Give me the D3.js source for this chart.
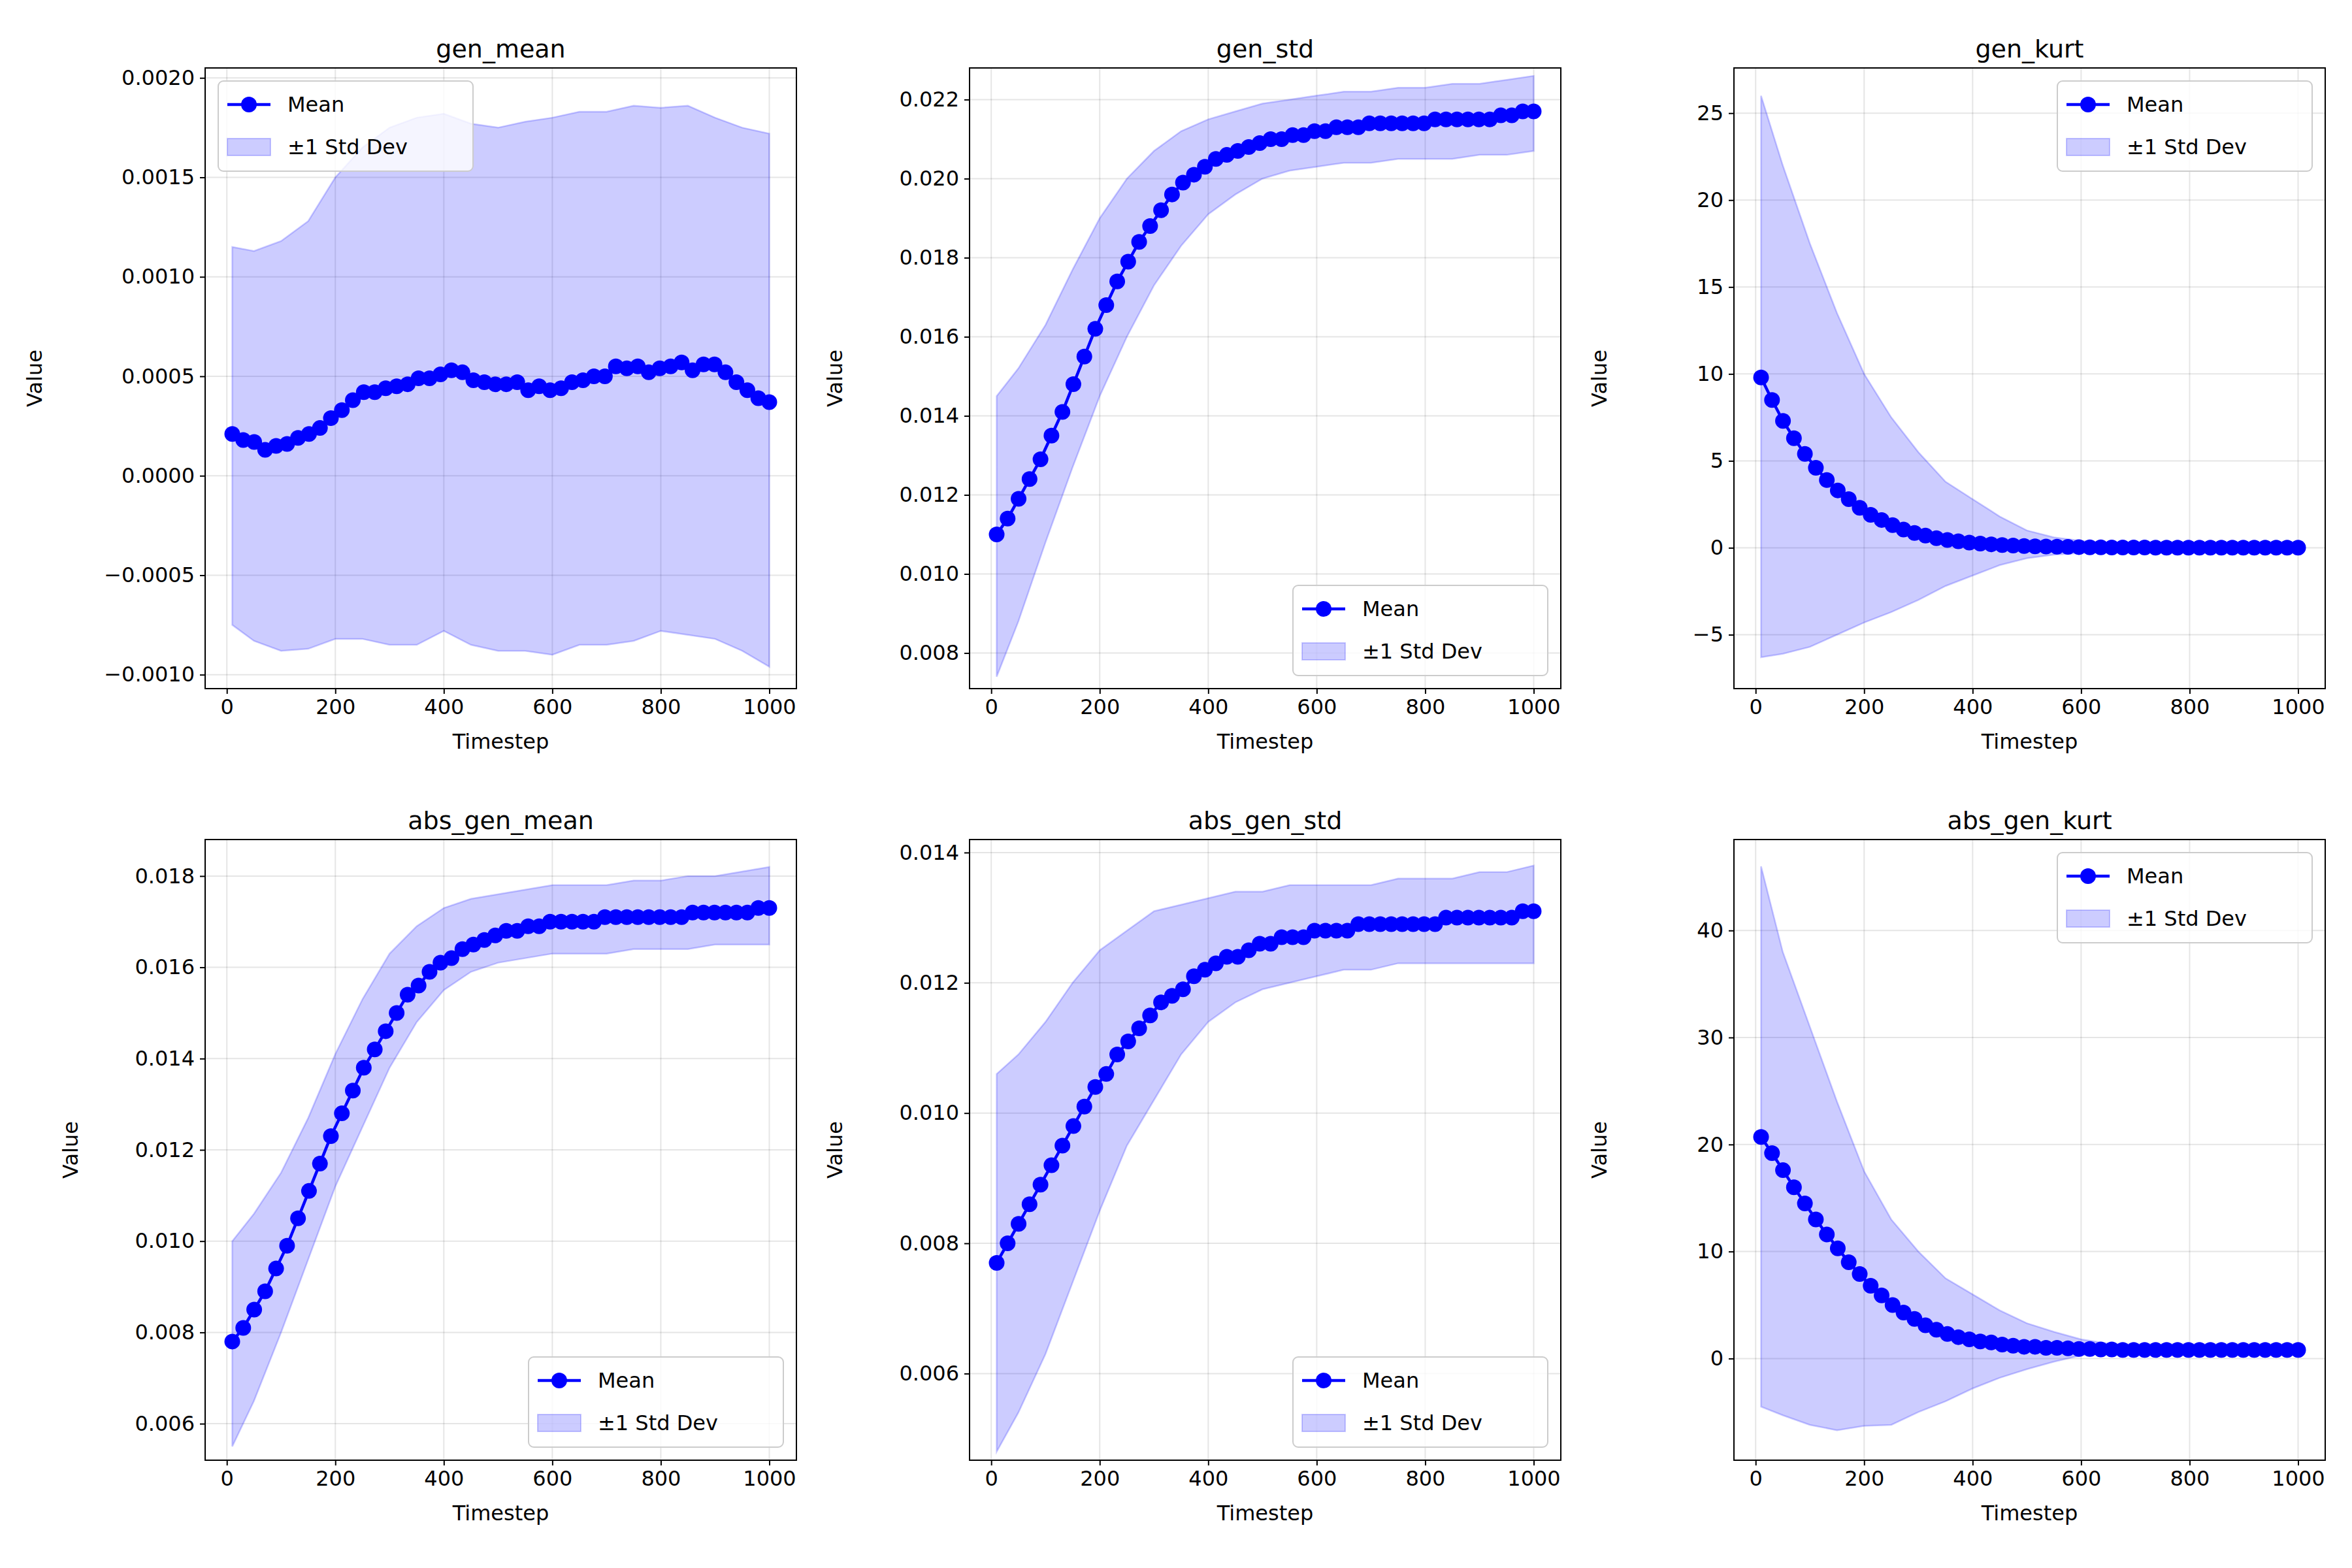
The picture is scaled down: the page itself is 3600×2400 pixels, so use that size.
<!DOCTYPE html>
<html><head><meta charset="utf-8">
<script src="https://cdn.jsdelivr.net/npm/d3@7"></script>
<style>body{margin:0;background:#fff}text{font-family:"DejaVu Sans",sans-serif}</style>
</head><body><div id="chart"></div>
<script>
// band x positions and mean x positions
const bandSteps = [10,50,100,150,200,250,300,350,400,450,500,550,600,650,700,750,800,850,900,950,1000];
const meanSteps = d3.range(50).map(i => 10 + i * 990 / 49);

const genMean = [0.00021,0.00018,0.00017,0.00013,0.00015,0.00016,0.00019,0.00021,0.00024,0.00029,0.00033,0.00038,0.00042,0.00042,0.00044,0.00045,0.00046,0.00049,0.00049,0.00051,0.00053,0.00052,0.00048,0.00047,0.00046,0.00046,0.00047,0.00043,0.00045,0.00043,0.00044,0.00047,0.00048,0.00050,0.00050,0.00055,0.00054,0.00055,0.00052,0.00054,0.00055,0.00057,0.00053,0.00056,0.00056,0.00052,0.00047,0.00043,0.00039,0.00037];
const genMeanUp = [0.00115,0.00113,0.00118,0.00128,0.00150,0.00165,0.00175,0.00180,0.00182,0.00177,0.00175,0.00178,0.00180,0.00183,0.00183,0.00186,0.00185,0.00186,0.00180,0.00175,0.00172];
const genMeanLo = [-0.00075,-0.00083,-0.00088,-0.00087,-0.00082,-0.00082,-0.00085,-0.00085,-0.00078,-0.00085,-0.00088,-0.00088,-0.00090,-0.00085,-0.00085,-0.00083,-0.00078,-0.00080,-0.00082,-0.00088,-0.00096];

const genStd = [.0110,.0114,.0119,.0124,.0129,.0135,.0141,.0148,.0155,.0162,.0168,.0174,.0179,.0184,.0188,.0192,.0196,.0199,.0201,.0203,.0205,.0206,.0207,.0208,.0209,.0210,.0210,.0211,.0211,.0212,.0212,.0213,.0213,.0213,.0214,.0214,.0214,.0214,.0214,.0214,.0215,.0215,.0215,.0215,.0215,.0215,.0216,.0216,.0217,.0217];
const genStdUp = [.0145,.0152,.0163,.0177,.0190,.0200,.0207,.0212,.0215,.0217,.0219,.0220,.0221,.0222,.0222,.0223,.0223,.0224,.0224,.0225,.0226];
const genStdLo = [.0074,.0088,.0108,.0127,.0145,.0160,.0173,.0183,.0191,.0196,.0200,.0202,.0203,.0204,.0204,.0205,.0205,.0205,.0206,.0206,.0207];

const genKurt = [9.8,8.5,7.3,6.3,5.4,4.6,3.9,3.3,2.8,2.3,1.9,1.6,1.3,1.05,0.85,0.7,0.55,0.45,0.37,0.3,0.24,0.2,0.16,0.13,0.1,0.08,0.07,0.06,0.05,0.04,0.03,0.03,0.02,0.02,0.02,0.02,0.01,0.01,0.01,0.01,0.01,0.01,0.01,0.01,0.01,0.01,0.01,0.01,0.01,0.01];
const genKurtUp = [26,22,17.5,13.5,10,7.5,5.5,3.8,2.8,1.8,1.0,0.6,0.4,0.3,0.2,0.2,0.1,0.1,0.1,0.1,0.1];
const genKurtLo = [-6.3,-6.1,-5.7,-5.0,-4.3,-3.7,-3.0,-2.2,-1.6,-1.0,-0.6,-0.4,-0.3,-0.2,-0.15,-0.1,-0.1,-0.1,-0.1,-0.1,-0.1];

const absMean = [.0078,.0081,.0085,.0089,.0094,.0099,.0105,.0111,.0117,.0123,.0128,.0133,.0138,.0142,.0146,.0150,.0154,.0156,.0159,.0161,.0162,.0164,.0165,.0166,.0167,.0168,.0168,.0169,.0169,.0170,.0170,.0170,.0170,.0170,.0171,.0171,.0171,.0171,.0171,.0171,.0171,.0171,.0172,.0172,.0172,.0172,.0172,.0172,.0173,.0173];
const absMeanUp = [.0100,.0106,.0115,.0127,.0141,.0153,.0163,.0169,.0173,.0175,.0176,.0177,.0178,.0178,.0178,.0179,.0179,.0180,.0180,.0181,.0182];
const absMeanLo = [.0055,.0065,.0080,.0096,.0112,.0125,.0138,.0148,.0155,.0159,.0161,.0162,.0163,.0163,.0163,.0164,.0164,.0164,.0165,.0165,.0165];

const absStd = [.0077,.0080,.0083,.0086,.0089,.0092,.0095,.0098,.0101,.0104,.0106,.0109,.0111,.0113,.0115,.0117,.0118,.0119,.0121,.0122,.0123,.0124,.0124,.0125,.0126,.0126,.0127,.0127,.0127,.0128,.0128,.0128,.0128,.0129,.0129,.0129,.0129,.0129,.0129,.0129,.0129,.0130,.0130,.0130,.0130,.0130,.0130,.0130,.0131,.0131];
const absStdUp = [.0106,.0109,.0114,.0120,.0125,.0128,.0131,.0132,.0133,.0134,.0134,.0135,.0135,.0135,.0135,.0136,.0136,.0136,.0137,.0137,.0138];
const absStdLo = [.0048,.0054,.0063,.0074,.0085,.0095,.0102,.0109,.0114,.0117,.0119,.0120,.0121,.0122,.0122,.0123,.0123,.0123,.0123,.0123,.0123];

const absKurt = [20.7,19.2,17.6,16.0,14.5,13.0,11.6,10.3,9.0,7.9,6.8,5.9,5.0,4.3,3.7,3.1,2.7,2.3,2.0,1.8,1.6,1.5,1.3,1.2,1.1,1.1,1.0,1.0,0.95,0.9,0.9,0.85,0.85,0.8,0.8,0.8,0.8,0.8,0.8,0.8,0.8,0.8,0.8,0.8,0.8,0.8,0.8,0.8,0.8,0.8];
const absKurtUp = [46,38,31,24,17.5,13,10,7.5,6,4.5,3.3,2.5,1.8,1.4,1.2,1.1,1.0,1.0,1.0,1.0,1.0];
const absKurtLo = [-4.5,-5.3,-6.2,-6.7,-6.3,-6.2,-5.0,-4.0,-2.8,-1.8,-1.0,-0.3,0.3,0.5,0.6,0.6,0.6,0.6,0.6,0.6,0.6];

const panels = [
  {title:'gen_mean', mean:genMean, up:genMeanUp, lo:genMeanLo, dom:[-0.00107,0.00205], ticks:d3.range(-0.001,0.00201,0.0005), fmt:'.4f', leg:'tl'},
  {title:'gen_std', mean:genStd, up:genStdUp, lo:genStdLo, dom:[0.0071,0.0228], ticks:d3.range(0.008,0.0221,0.002), fmt:'.3f', leg:'br'},
  {title:'gen_kurt', mean:genKurt, up:genKurtUp, lo:genKurtLo, dom:[-8.1,27.6], ticks:[-5,0,5,10,15,20,25], fmt:'d', leg:'tr'},
  {title:'abs_gen_mean', mean:absMean, up:absMeanUp, lo:absMeanLo, dom:[0.0052,0.0188], ticks:d3.range(0.006,0.0181,0.002), fmt:'.3f', leg:'br'},
  {title:'abs_gen_std', mean:absStd, up:absStdUp, lo:absStdLo, dom:[0.00467,0.0142], ticks:d3.range(0.006,0.0141,0.002), fmt:'.3f', leg:'br'},
  {title:'abs_gen_kurt', mean:absKurt, up:absKurtUp, lo:absKurtLo, dom:[-9.5,48.5], ticks:[0,10,20,30,40], fmt:'d', leg:'tr'}
];

const width = 3600, height = 2400;
const lefts = [314, 1484, 2654], tops = [104, 1285];
const pw = 905, ph = 950;
const fs = 32;

const svg = d3.select('#chart').append('svg').attr('width', width).attr('height', height);

panels.forEach((p, i) => {
  const g = svg.append('g').attr('transform', `translate(${lefts[i % 3]},${tops[Math.floor(i / 3)]})`);
  const x = d3.scaleLinear().domain([-40, 1050]).range([0, pw]);
  const y = d3.scaleLinear().domain(p.dom).range([ph, 0]);

  // grid
  g.append('g').selectAll('line').data([0,200,400,600,800,1000]).join('line')
    .attr('x1', d => x(d)).attr('x2', d => x(d)).attr('y1', 0).attr('y2', ph)
    .attr('stroke', '#000').attr('stroke-opacity', 0.1).attr('stroke-width', 2);
  g.append('g').selectAll('line').data(p.ticks).join('line')
    .attr('y1', d => y(d)).attr('y2', d => y(d)).attr('x1', 0).attr('x2', pw)
    .attr('stroke', '#000').attr('stroke-opacity', 0.1).attr('stroke-width', 2);

  const band = bandSteps.map((s, j) => ({s, u: p.up[j], l: p.lo[j]}));
  g.append('path').datum(band)
    .attr('d', d3.area().x(d => x(d.s)).y0(d => y(d.l)).y1(d => y(d.u)))
    .attr('fill', 'rgba(0,0,255,0.2)').attr('stroke', 'rgba(0,0,255,0.2)').attr('stroke-width', 2.5);

  const pts = meanSteps.map((s, j) => ({s, v: p.mean[j]}));
  g.append('path').datum(pts)
    .attr('d', d3.line().x(d => x(d.s)).y(d => y(d.v)))
    .attr('fill', 'none').attr('stroke', 'blue').attr('stroke-width', 4.5);
  g.append('g').selectAll('circle').data(pts).join('circle')
    .attr('cx', d => x(d.s)).attr('cy', d => y(d.v)).attr('r', 12).attr('fill', 'blue');

  const xAxis = g.append('g').attr('transform', `translate(0,${ph})`)
    .call(d3.axisBottom(x).tickValues([0,200,400,600,800,1000]).tickFormat(d3.format('d')).tickSize(8).tickPadding(8));
  const yAxis = g.append('g')
    .call(d3.axisLeft(y).tickValues(p.ticks).tickFormat(d => p.fmt === 'd' ? d3.format('d')(d) : d3.format(p.fmt)(d).replace('-', '\u2212')).tickSize(8).tickPadding(8));
  [xAxis, yAxis].forEach(a => {
    a.selectAll('text').attr('font-size', fs).attr('font-family', '"DejaVu Sans"').attr('fill', '#000');
    a.selectAll('line').attr('stroke-width', 2);
    a.select('.domain').remove();
  });
  g.append('rect').attr('width', pw).attr('height', ph).attr('fill', 'none').attr('stroke', '#000').attr('stroke-width', 2);

  g.append('text').attr('x', pw / 2).attr('y', -16).attr('text-anchor', 'middle').attr('font-size', 38).text(p.title);
  g.append('text').attr('x', pw / 2).attr('y', ph + 92).attr('text-anchor', 'middle').attr('font-size', fs).text('Timestep');
  const vOff = i === 0 ? -250 : (i === 3 ? -195 : -195);
  g.append('text').attr('transform', `translate(${vOff},${ph / 2}) rotate(-90)`)
    .attr('text-anchor', 'middle').attr('font-size', fs).text('Value');

  // legend
  const lw = 390, lh = 138;
  const lx = p.leg === 'tl' ? 20 : pw - lw - 20;
  const ly = p.leg === 'br' ? ph - lh - 20 : 20;
  const lg = g.append('g').attr('transform', `translate(${lx},${ly})`);
  lg.append('rect').attr('width', lw).attr('height', lh).attr('rx', 8)
    .attr('fill', 'rgba(255,255,255,0.8)').attr('stroke', '#ccc').attr('stroke-width', 2);
  lg.append('line').attr('x1', 14).attr('x2', 80).attr('y1', 36).attr('y2', 36).attr('stroke', 'blue').attr('stroke-width', 4.5);
  lg.append('circle').attr('cx', 47).attr('cy', 36).attr('r', 12).attr('fill', 'blue');
  lg.append('rect').attr('x', 14).attr('y', 88).attr('width', 66).attr('height', 26)
    .attr('fill', 'rgba(0,0,255,0.2)').attr('stroke', 'rgba(0,0,255,0.2)').attr('stroke-width', 2);
  lg.append('text').attr('x', 106).attr('y', 47).attr('font-size', fs).text('Mean');
  lg.append('text').attr('x', 106).attr('y', 112).attr('font-size', fs).text('±1 Std Dev');
});
</script></body></html>
